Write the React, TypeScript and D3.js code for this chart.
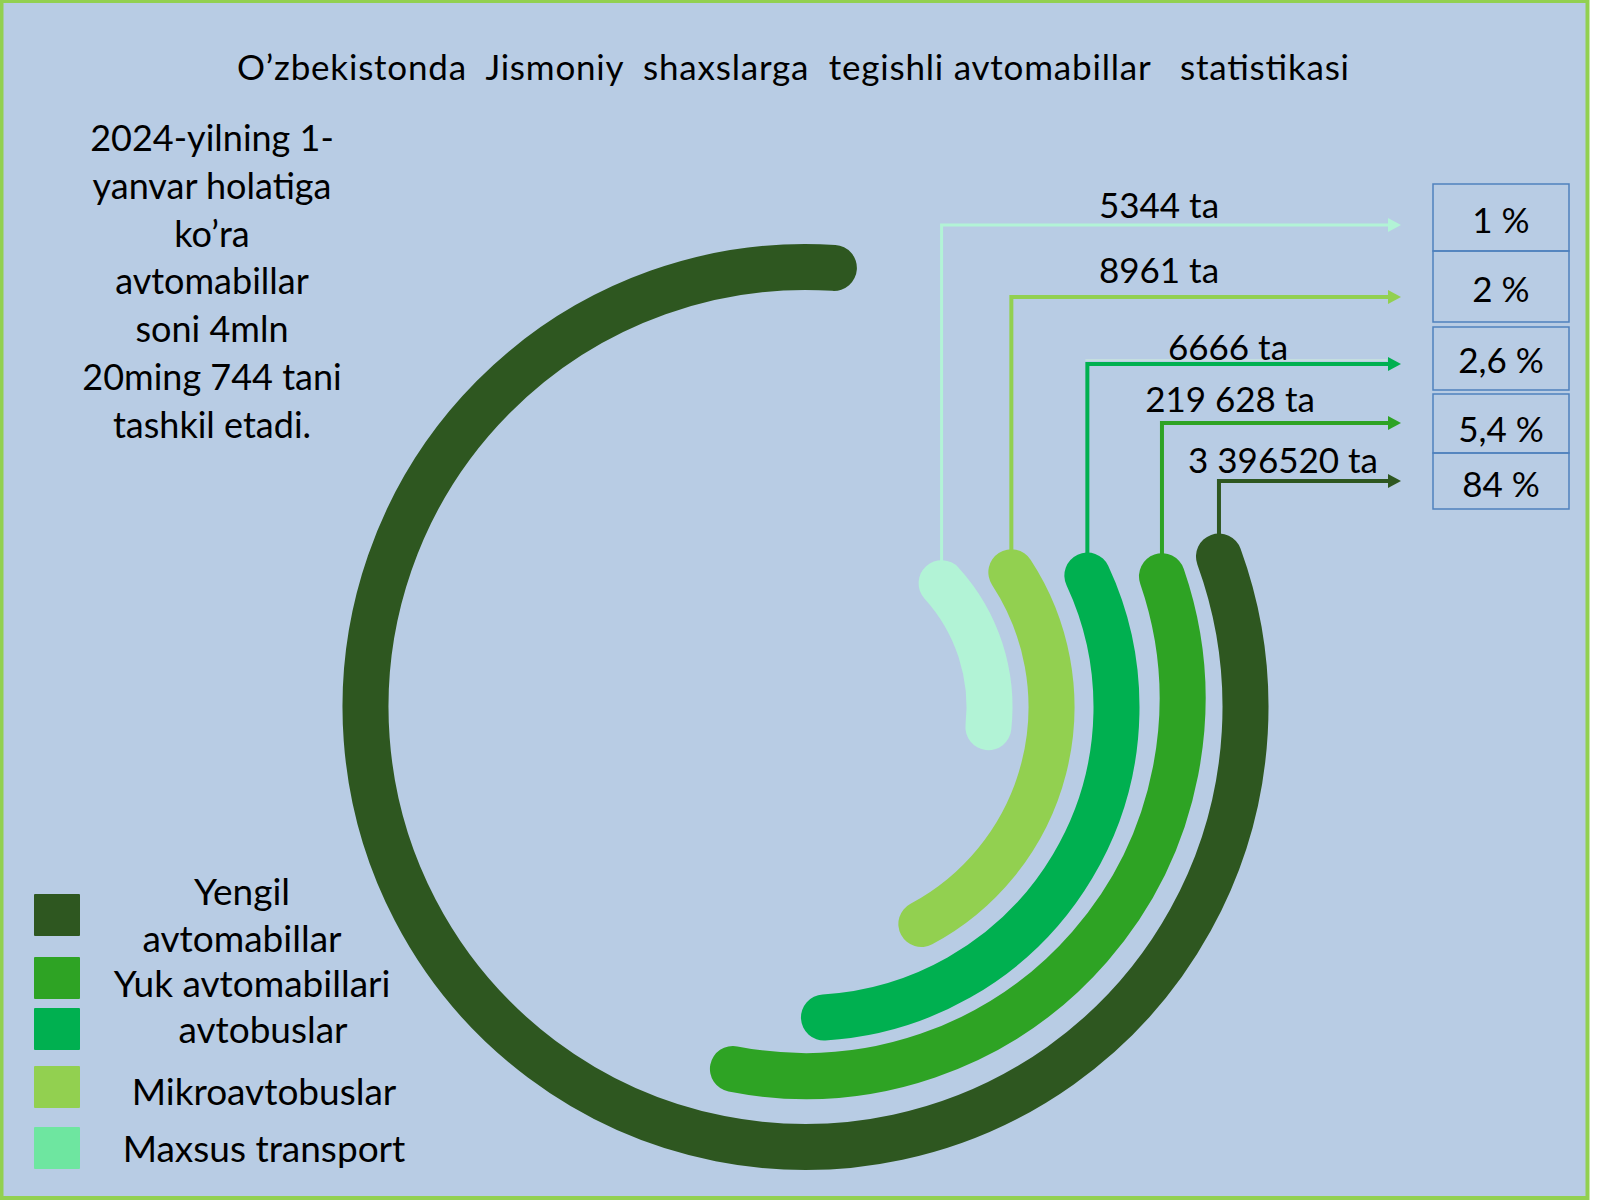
import React from 'react';
import * as d3 from 'd3';

// ---------- data ----------
const categories = ['Yengil avtomabillar', 'Yuk avtomabillari', 'avtobuslar', 'Mikroavtobuslar', 'Maxsus transport'];
const countLabels = ['3 396520 ta', '219 628 ta', '6666 ta', '8961 ta', '5344 ta'];
const percentLabels = ['84 %', '5,4 %', '2,6 %', '2 %', '1 %'];
// arc extents (degrees, clockwise from 12 o'clock)
const arcStartDeg = [70, 71, 65, 56.8, 47.7];
const arcEndDeg = [363.7, 191.1, 176.6, 151.9, 96.3];
const arcColors = ['#2E5720', '#2EA324', '#00B050', '#92D050', '#B2F3D6'];
const legendColors = ['#2E5720', '#2EA324', '#00B050', '#92D050', '#6EE6A0'];
const legendLines = [['Yengil', 'avtomabillar'], ['Yuk avtomabillari'], ['avtobuslar'], ['Mikroavtobuslar'], ['Maxsus transport']];
const titleText = 'O’zbekistonda  Jismoniy  shaxslarga  tegishli avtomabillar   statistikasi';
const noteLines = ['2024-yilning 1-', 'yanvar holatiga', 'ko’ra', 'avtomabillar', 'soni 4mln', '20ming 744 tani', 'tashkil etadi.'];

// ---------- layout ----------
const W = 1600, H = 1200;
const CX = 805.5, CY = 707;
const ringDY = [0, -8, 0, 0, 0];
const ringR = [440, 377, 311, 246, 184];
const STROKE = 46;
const FONT = "Lato, 'Open Sans', sans-serif";
const leaderY = [481, 423, 364, 297, 225];
const leaderW = [4, 4, 4, 4, 3];
const labelX = [1283, 1230, 1228, 1159, 1159];
const labelY = [473, 412, 360, 283, 218];
const arrowTip = 1401;
const boxX0 = 1433, boxX1 = 1569;
const boxTop = [453, 394, 327, 251, 184];
const boxBottom = [509, 453, 390, 322, 251];
const pctY = [497, 442, 373, 302, 233];
const legendSqY = [894, 957, 1008, 1066, 1127];
const legendTextX = [242, 252, 263, 264, 264];
const legendTextY = [[905, 952], [997], [1043], [1105], [1162]];

const radius = d3.scaleOrdinal<string, number>().domain(categories).range(ringR);
const ang = d3.scaleLinear().domain([0, 360]).range([-Math.PI / 2, (3 * Math.PI) / 2]);

function arcPath(i: number) {
  const p = d3.path();
  const r = radius(categories[i]);
  const cy = CY + ringDY[i];
  const a0 = ang(arcStartDeg[i]);
  const a1 = ang(arcEndDeg[i]);
  p.moveTo(CX + r * Math.cos(a0), cy + r * Math.sin(a0));
  p.arc(CX, cy, r, a0, a1, false);
  return p.toString();
}

function startPoint(i: number) {
  const r = radius(categories[i]);
  const a0 = ang(arcStartDeg[i]);
  return [CX + r * Math.cos(a0), CY + ringDY[i] + r * Math.sin(a0)];
}

export default function App() {
  return (
    <svg width={W} height={H} style={{ position: 'absolute', left: 0, top: 0 }} fontFamily={FONT}>
      <rect x={0} y={0} width={W} height={H} fill="#ffffff" />
      <rect x={1.5} y={1} width={1586} height={1197} fill="#B8CCE4" stroke="#92D050" strokeWidth={4} />

      <text x={237} y={80} fontSize={35} fill="#000" textLength={1112} lengthAdjust="spacing" style={{ whiteSpace: 'pre' }}>{titleText}</text>

      {noteLines.map((t, i) => (
        <text key={t} x={212} y={151 + i * 47.8} fontSize={36} textAnchor="middle" fill="#000">{t}</text>
      ))}

      {/* leader lines */}
      {categories.map((c, i) => {
        const [sx, sy] = startPoint(i);
        const y = leaderY[i];
        const col = arcColors[i];
        return (
          <g key={c}>
            <path d={`M${sx},${sy}V${y}H${arrowTip - 12}`} fill="none" stroke={col} strokeWidth={leaderW[i]} />
            {i === 2 && (
              <path d={`M${sx - 2},${y - 4}H${arrowTip - 14}`} fill="none" stroke="#CFEFD8" strokeWidth={1.2} />
            )}
            <path d={`M${arrowTip},${y}L${arrowTip - 13},${y - 7}L${arrowTip - 13},${y + 7}Z`} fill={col} />
            <text x={labelX[i]} y={labelY[i]} fontSize={35} textAnchor="middle" fill="#000">{countLabels[i]}</text>
          </g>
        );
      })}

      {/* arcs */}
      {categories.map((c, i) => (
        <path key={c} d={arcPath(i)} fill="none" stroke={arcColors[i]} strokeWidth={STROKE} strokeLinecap="round" />
      ))}

      {/* percentage boxes */}
      {categories.map((c, i) => (
        <g key={c}>
          <rect x={boxX0} y={boxTop[i]} width={boxX1 - boxX0} height={boxBottom[i] - boxTop[i]} fill="none" stroke="#4F81BD" strokeWidth={1.5} />
          <text x={(boxX0 + boxX1) / 2} y={pctY[i]} fontSize={35} textAnchor="middle" fill="#000">{percentLabels[i]}</text>
        </g>
      ))}

      {/* legend */}
      {categories.map((c, i) => (
        <g key={c}>
          <rect x={34} y={legendSqY[i]} width={46} height={42} fill={legendColors[i]} rx={1} />
          {legendLines[i].map((t, j) => (
            <text key={t} x={legendTextX[i]} y={legendTextY[i][j]} fontSize={37} textAnchor="middle" fill="#000">{t}</text>
          ))}
        </g>
      ))}
    </svg>
  );
}
